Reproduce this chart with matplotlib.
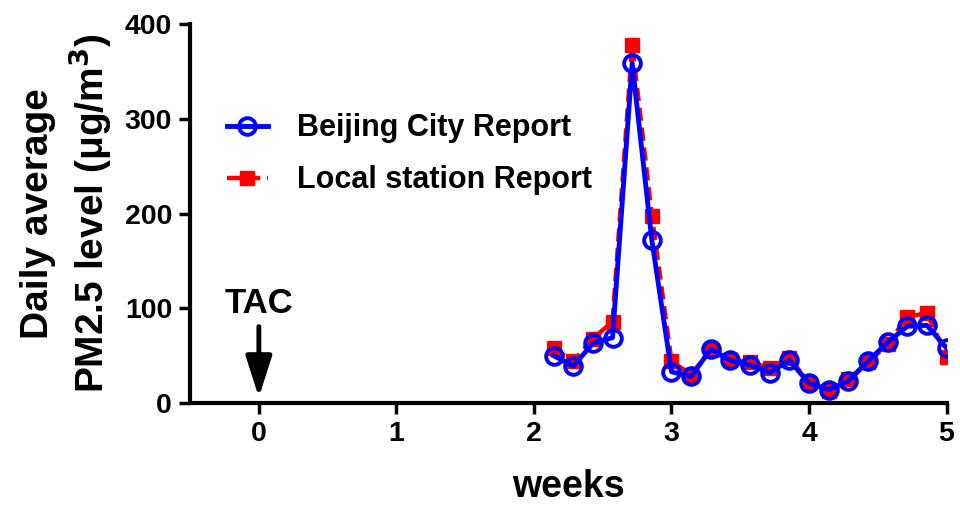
import matplotlib
matplotlib.use("Agg")
import matplotlib.pyplot as plt
import numpy as np

plt.rcParams['font.family'] = ['Liberation Sans', 'DejaVu Sans']
plt.rcParams['font.weight'] = 'bold'

# days 15..35, plotted in weeks
dias = np.arange(15, 36)
semanas = dias / 7.0

beijing = [50, 39, 63, 69, 359, 172, 33, 28, 57, 45, 40, 32, 45, 21, 14, 23, 44, 64, 81, 82, 58]
local = [58, 44, 68, 86, 378, 198, 44, 30, 56, 45, 43, 37, 48, 21, 13, 25, 43, 62, 91, 95, 49]

xticks = [0, 1, 2, 3, 4, 5]
yticks = [0, 100, 200, 300, 400]

fig = plt.figure(figsize=(9.6, 5.05), dpi=100)
ax = fig.add_axes([0.198, 0.202, 0.788, 0.75])

ax.plot(semanas, local, color='#ff0000', ls=(0, (3, 1.5)), lw=3.2, marker='s',
        markersize=10, label='Local station Report', zorder=2)
ax.plot(semanas, beijing, color='#0000ff', lw=3.5, marker='o', markersize=12,
        markerfacecolor='none', markeredgewidth=2.8, label='Beijing City Report', zorder=3)

ax.set_xlim(-0.5, 5)
ax.set_ylim(0, 400)
ax.set_xticks(xticks)
ax.set_yticks(yticks)
ax.tick_params(labelsize=20.5, width=2.5, length=8, direction='out', pad=5)
for lab in ax.get_xticklabels() + ax.get_yticklabels():
    lab.set_fontweight('bold')
ax.spines['top'].set_visible(False)
ax.spines['right'].set_visible(False)
ax.spines['left'].set_linewidth(3)
ax.spines['bottom'].set_linewidth(3)

ax.set_xlabel('weeks', fontsize=27, fontweight='bold', labelpad=16)
ax.set_ylabel('Daily average\nPM2.5 level (μg/m$^\\mathbf{3}$)', fontsize=28,
              fontweight='bold', linespacing=1.25, labelpad=8)

ax.annotate('TAC', xy=(0, 6), xytext=(0, 88), ha='center', va='bottom',
            fontsize=25, fontweight='bold',
            arrowprops=dict(arrowstyle='-|>,head_width=0.32,head_length=1.0',
                            color='black', lw=3.5, shrinkA=3, shrinkB=0))

handles, labels = ax.get_legend_handles_labels()
leg = ax.legend(handles[::-1], labels[::-1], loc='upper left', bbox_to_anchor=(0.012, 0.837),
                frameon=False, fontsize=22, handlelength=1.35, handletextpad=0.95,
                labelspacing=0.72)
for t in leg.get_texts():
    t.set_fontweight('bold')

fig.savefig('out.png', dpi=100)
